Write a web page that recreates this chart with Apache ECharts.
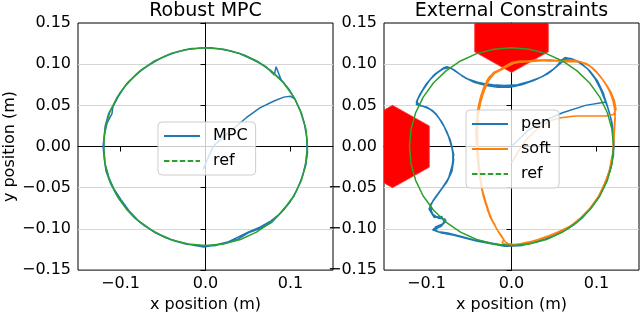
<!DOCTYPE html>
<html><head><meta charset="utf-8">
<script src="https://cdn.jsdelivr.net/npm/echarts@6/dist/echarts.min.js"></script>
<style>html,body{margin:0;padding:0;background:#fff}#c{width:640px;height:318px}</style>
</head><body><div id="c"></div><script>
// ---------- data ----------
const xTicks = [-0.1, 0.0, 0.1];
const refCircle = [[0.1200,0.0000],[0.1182,0.0208],[0.1128,0.0410],[0.1039,0.0600],[0.0919,0.0771],[0.0771,0.0919],[0.0600,0.1039],[0.0410,0.1128],[0.0208,0.1182],[0.0000,0.1200],[-0.0208,0.1182],[-0.0410,0.1128],[-0.0600,0.1039],[-0.0771,0.0919],[-0.0919,0.0771],[-0.1039,0.0600],[-0.1128,0.0410],[-0.1182,0.0208],[-0.1200,0.0000],[-0.1182,-0.0208],[-0.1128,-0.0410],[-0.1039,-0.0600],[-0.0919,-0.0771],[-0.0771,-0.0919],[-0.0600,-0.1039],[-0.0410,-0.1128],[-0.0208,-0.1182],[0.0000,-0.1200],[0.0208,-0.1182],[0.0410,-0.1128],[0.0600,-0.1039],[0.0771,-0.0919],[0.0919,-0.0771],[0.1039,-0.0600],[0.1128,-0.0410],[0.1182,-0.0208],[0.1200,0.0000]];
const mpcTraj = [[-0.003,-0.028],[0.002,-0.016],[0.009,0.000],[0.018,0.009],[0.032,0.021],[0.048,0.035],[0.064,0.047],[0.080,0.055],[0.092,0.060],[0.100,0.061],[0.105,0.058],
[0.097,0.071],[0.089,0.081],[0.083,0.097],[0.081,0.087],[0.071,0.097],[0.060,0.104],[0.046,0.111],[0.030,0.116],[0.014,0.119],[0.000,0.1198],[-0.016,0.119],[-0.032,0.1155],[-0.047,0.110],[-0.061,0.1025],[-0.074,0.094],[-0.085,0.084],[-0.095,0.073],[-0.103,0.060],[-0.109,0.048],[-0.110,0.040],[-0.116,0.028],[-0.119,0.014],[-0.1205,0.000],[-0.119,-0.016],[-0.117,-0.030],[-0.112,-0.044],[-0.106,-0.056],[-0.102,-0.063],[-0.092,-0.077],[-0.083,-0.087],[-0.072,-0.096],[-0.060,-0.104],[-0.046,-0.111],[-0.031,-0.116],[-0.016,-0.1195],[-0.002,-0.122],[0.012,-0.1195],[0.026,-0.116],[0.040,-0.109],[0.050,-0.104],[0.064,-0.098],[0.076,-0.091],[0.086,-0.083],[0.096,-0.071],[0.104,-0.060],[0.110,-0.047],[0.115,-0.033],[0.118,-0.019],[0.1195,-0.004],[0.119,0.012],[0.116,0.029],[0.111,0.045],[0.105,0.058],
[0.098,0.070],[0.088,0.082],[0.078,0.091],[0.068,0.099],[0.055,0.106],[0.040,0.113],[0.024,0.1175],[0.008,0.1198],[-0.008,0.1195],[-0.024,0.1175],[-0.040,0.113],[-0.054,0.1065],[-0.068,0.098],[-0.080,0.089],[-0.091,0.078],[-0.100,0.066],[-0.107,0.053],[-0.114,0.040],[-0.118,0.025],[-0.1195,0.010],[-0.1195,-0.006],[-0.118,-0.022],[-0.114,-0.037],[-0.108,-0.051],[-0.099,-0.065],[-0.090,-0.078],[-0.079,-0.090],[-0.066,-0.100],[-0.052,-0.108],[-0.038,-0.114],[-0.022,-0.1185],[-0.006,-0.1205],[0.010,-0.1205],[0.024,-0.117],[0.038,-0.1125],[0.052,-0.104],[0.066,-0.099],[0.078,-0.092],[0.089,-0.080],[0.099,-0.068],[0.107,-0.054],[0.113,-0.039],[0.1175,-0.024],[0.120,-0.008],[0.1195,0.008],[0.117,0.025],[0.112,0.042],[0.106,0.056]];
const penTraj = [[0.000,0.000],[0.020,0.020],[0.040,0.032],[0.060,0.041],[0.087,0.050],[0.111,0.054],
[0.108,0.065],[0.101,0.080],[0.092,0.092],[0.082,0.101],[0.072,0.106],[0.063,0.108],[0.058,0.104],[0.052,0.096],[0.042,0.088],[0.030,0.082],[0.017,0.077],[0.003,0.073],[-0.012,0.073],[-0.026,0.075],[-0.040,0.078],[-0.054,0.083],[-0.064,0.090],[-0.071,0.095],[-0.079,0.096],[-0.090,0.088],[-0.099,0.077],[-0.106,0.066],[-0.111,0.056],[-0.110,0.050],[-0.100,0.048],[-0.092,0.043],[-0.085,0.034],[-0.078,0.022],[-0.072,0.008],[-0.069,-0.006],[-0.069,-0.020],[-0.072,-0.034],[-0.079,-0.047],[-0.088,-0.060],[-0.095,-0.070],[-0.094,-0.081],[-0.086,-0.087],[-0.078,-0.088],[-0.081,-0.094],[-0.090,-0.098],[-0.088,-0.103],[-0.075,-0.105],[-0.060,-0.109],[-0.045,-0.113],[-0.030,-0.116],[-0.015,-0.119],[0.000,-0.1205],[0.016,-0.119],[0.032,-0.115],[0.048,-0.109],[0.062,-0.102],[0.075,-0.093],[0.087,-0.082],[0.097,-0.070],[0.105,-0.057],[0.112,-0.042],[0.117,-0.026],[0.120,-0.010],[0.1205,0.006],[0.119,0.022],[0.116,0.038],[0.112,0.052],
[0.107,0.067],[0.100,0.081],[0.091,0.093],[0.081,0.102],[0.070,0.107],[0.062,0.106],[0.056,0.100],[0.048,0.093],[0.038,0.086],[0.026,0.080],[0.012,0.075],[-0.002,0.072],[-0.016,0.072],[-0.030,0.074],[-0.044,0.078],[-0.057,0.085],[-0.066,0.092],[-0.073,0.096],[-0.081,0.094],[-0.092,0.086],[-0.101,0.075],[-0.108,0.063],[-0.112,0.054],[-0.107,0.050],[-0.097,0.046],[-0.089,0.040],[-0.082,0.030],[-0.076,0.018],[-0.071,0.004],[-0.068,-0.010],[-0.070,-0.024],[-0.074,-0.038],[-0.082,-0.051],[-0.090,-0.062],[-0.096,-0.073],[-0.092,-0.084],[-0.084,-0.086],[-0.077,-0.090],[-0.083,-0.097],[-0.092,-0.100],[-0.085,-0.104],[-0.070,-0.107],[-0.055,-0.111],[-0.040,-0.115],[-0.024,-0.118],[-0.008,-0.121],[0.008,-0.120],[0.024,-0.117],[0.040,-0.112],[0.055,-0.106],[0.069,-0.098],[0.081,-0.088],[0.092,-0.076],[0.101,-0.064],[0.108,-0.050],[0.114,-0.034],[0.118,-0.018],[0.1205,-0.002],[0.120,0.014],[0.118,0.030],[0.114,0.045],[0.110,0.056],
[0.105,0.069],[0.098,0.083],[0.089,0.095],[0.078,0.103],[0.068,0.106],[0.060,0.103],[0.053,0.097],[0.045,0.090],[0.034,0.084],[0.021,0.079],[0.007,0.075],[-0.008,0.074],[-0.022,0.075],[-0.036,0.077],[-0.050,0.081],[-0.061,0.088],[-0.069,0.094],[-0.076,0.097],[-0.086,0.091],[-0.096,0.081],[-0.104,0.069],[-0.110,0.058],[-0.112,0.051],[-0.104,0.049],[-0.095,0.045],[-0.087,0.037],[-0.080,0.026],[-0.074,0.012],[-0.070,-0.002],[-0.068,-0.016],[-0.070,-0.030],[-0.076,-0.043],[-0.085,-0.055],[-0.092,-0.065],[-0.097,-0.076],[-0.091,-0.086],[-0.082,-0.085],[-0.079,-0.092],[-0.087,-0.099],[-0.093,-0.101],[-0.082,-0.105],[-0.066,-0.108],[-0.051,-0.112],[-0.035,-0.116],[-0.019,-0.119],[-0.003,-0.121],[0.013,-0.120],[0.028,-0.116],[0.044,-0.111],[0.058,-0.104],[0.072,-0.096],[0.084,-0.086],[0.094,-0.074],[0.103,-0.061],[0.110,-0.046],[0.115,-0.030],[0.119,-0.014],[0.1205,0.002],[0.119,0.018],[0.117,0.034],[0.113,0.048],[0.108,0.062]];
const softTraj = [[0.000,-0.020],[0.008,-0.006],[0.017,0.008],[0.030,0.021],[0.044,0.031],[0.058,0.035],[0.075,0.037],[0.095,0.037],[0.111,0.037],[0.120,0.039],[0.123,0.045],
[0.121,0.056],[0.117,0.066],[0.111,0.076],[0.104,0.086],[0.096,0.095],[0.088,0.101],[0.079,0.103],[0.066,0.103],[0.052,0.104],[0.038,0.105],[0.024,0.104],[0.010,0.104],[0.000,0.102],[-0.007,0.098],[-0.013,0.094],[-0.021,0.090],[-0.028,0.082],[-0.033,0.071],[-0.037,0.058],[-0.040,0.044],[-0.041,0.028],[-0.041,0.012],[-0.040,-0.004],[-0.039,-0.020],[-0.037,-0.036],[-0.035,-0.050],[-0.031,-0.065],[-0.028,-0.078],[-0.023,-0.090],[-0.019,-0.097],[-0.015,-0.104],[-0.011,-0.110],[-0.008,-0.115],[-0.005,-0.118],[0.004,-0.119],[0.018,-0.117],[0.032,-0.113],[0.046,-0.108],[0.060,-0.102],[0.073,-0.094],[0.085,-0.084],[0.095,-0.072],[0.104,-0.058],[0.111,-0.042],[0.116,-0.026],[0.119,-0.008],[0.120,0.010],[0.121,0.026],[0.122,0.040],
[0.120,0.054],[0.115,0.068],[0.109,0.079],[0.101,0.089],[0.093,0.097],[0.084,0.102],[0.074,0.104],[0.061,0.104],[0.047,0.105],[0.033,0.104],[0.019,0.103],[0.007,0.102],[-0.002,0.100],[-0.010,0.094],[-0.018,0.091],[-0.026,0.085],[-0.031,0.075],[-0.036,0.062],[-0.039,0.048],[-0.041,0.032],[-0.042,0.016],[-0.041,0.000],[-0.040,-0.016],[-0.038,-0.032],[-0.036,-0.047],[-0.033,-0.061],[-0.029,-0.074],[-0.025,-0.086],[-0.020,-0.094],[-0.017,-0.101],[-0.012,-0.108],[-0.009,-0.113],[-0.011,-0.117],[-0.004,-0.120],[0.010,-0.118],[0.024,-0.115],[0.038,-0.111],[0.053,-0.105],[0.067,-0.098],[0.079,-0.089],[0.090,-0.078],[0.100,-0.065],[0.108,-0.050],[0.114,-0.034],[0.118,-0.017],[0.120,0.001],[0.121,0.018],[0.122,0.034],[0.121,0.048],
[0.118,0.061],[0.113,0.072],[0.106,0.083],[0.099,0.092],[0.090,0.099],[0.081,0.103],[0.070,0.105],[0.056,0.104],[0.042,0.104],[0.028,0.105],[0.014,0.103],[0.003,0.101],[-0.005,0.097],[-0.012,0.093],[-0.020,0.089],[-0.027,0.080],[-0.032,0.068],[-0.036,0.055],[-0.039,0.040],[-0.040,0.024],[-0.040,0.008],[-0.039,-0.008],[-0.038,-0.024],[-0.036,-0.040],[-0.034,-0.054],[-0.030,-0.068],[-0.026,-0.081],[-0.022,-0.091],[-0.018,-0.099],[-0.014,-0.106],[-0.010,-0.112],[-0.007,-0.116],[0.000,-0.120],[0.014,-0.118],[0.028,-0.114],[0.042,-0.109],[0.056,-0.103],[0.070,-0.096],[0.082,-0.086],[0.093,-0.074],[0.102,-0.061],[0.109,-0.046],[0.115,-0.030],[0.118,-0.013]];
const hexCenters = [[-0.14,0.0],[0.0,0.14]];
const hexLeft = [[-0.14,0.05],[-0.0967,0.025],[-0.0967,-0.025],[-0.14,-0.05],[-0.1833,-0.025],[-0.1833,0.025]];
const hexTop = [[0.0,0.09],[0.0433,0.115],[0.0433,0.165],[0.0,0.19],[-0.0433,0.165],[-0.0433,0.115]];
const hexVerts = [hexLeft, hexTop];

// ---------- chart ----------
const FONT = 'DejaVu Sans';
const BLUE = '#1f77b4', ORANGE = '#ff7f0e', GREEN = '#2ca02c';
const clean = v => (Math.abs(v) < 1e-9 ? 0 : v);
const fmtX = v => clean(v).toFixed(1).replace('-', '\u2212');
const fmtY = v => clean(v).toFixed(2).replace('-', '\u2212');
const T = 'rgba(0,0,0,0)', G = '#d6d6d6';
const txt = {fontSize:16, fontFamily:FONT, color:'#000'};

function xAxisCfg(i) {
  return {type:'value', gridIndex:i, min:-0.15, max:0.15, interval:0.05,
    axisLine:{show:true, lineStyle:{color:'#000', width:1}},
    axisTick:{show:true, customValues:xTicks, length:5, lineStyle:{color:'#000', width:1}},
    axisLabel:{customValues:xTicks, formatter:fmtX, margin:6, ...txt},
    splitLine:{show:true, lineStyle:{color:[T,G,T,G,T,G,T], width:1}},
    name:'x position (m)', nameLocation:'middle', nameGap:23, nameTextStyle:txt};
}
function yAxisCfg(i, named) {
  const a = {type:'value', gridIndex:i, min:-0.15, max:0.15, interval:0.05,
    axisLine:{show:true, lineStyle:{color:'#000', width:1}},
    axisTick:{show:true, length:5, lineStyle:{color:'#000', width:1}},
    axisLabel:{formatter:fmtY, margin:7, ...txt},
    splitLine:{show:true, lineStyle:{color:[T,G,G,G,G,G,T], width:1}}};
  if (named) Object.assign(a, {name:'y position (m)', nameLocation:'middle', nameGap:56, nameTextStyle:txt});
  return a;
}
const legendBase = {orient:'vertical', itemWidth:36, itemHeight:14, itemGap:9,
  padding:[6,8,6,5], backgroundColor:'rgba(255,255,255,0.8)', borderColor:'#cccccc',
  borderWidth:1, borderRadius:4, selectedMode:false,
  itemStyle:{opacity:0, borderWidth:0},
  textStyle:{...txt, padding:[0,0,0,8]}};
const lineS = (name, data, color, xi) => ({type:'line', name, data, xAxisIndex:xi, yAxisIndex:xi,
  symbol:'none', smooth:false, lineStyle:{color, width:1.5}, itemStyle:{color}, animation:false, silent:true});

const option = {
  animation:false,
  grid:[
    {left:78, top:23, width:255, height:254, show:true, borderColor:'#000', borderWidth:1, backgroundColor:'transparent'},
    {left:384, top:23, width:255, height:254, show:true, borderColor:'#000', borderWidth:1, backgroundColor:'transparent'}
  ],
  xAxis:[xAxisCfg(0), xAxisCfg(1)],
  yAxis:[yAxisCfg(0, true), yAxisCfg(1, false)],
  legend:[
    Object.assign({}, legendBase, {left:158, top:122, data:[{name:'MPC'}, {name:'ref', lineStyle:{type:[5.5,2.4]}}]}),
    Object.assign({}, legendBase, {left:466, top:110, data:[{name:'pen'}, {name:'soft'}, {name:'ref', lineStyle:{type:[5.5,2.4]}}]})
  ],
  graphic:[
    {type:'text', x:205.5, y:11, style:{text:'Robust MPC', fontSize:19, fontFamily:FONT, fill:'#000', align:'center', verticalAlign:'middle', textAlign:'center', textVerticalAlign:'middle'}},
    {type:'text', x:511.5, y:11, style:{text:'External Constraints', fontSize:19, fontFamily:FONT, fill:'#000', align:'center', verticalAlign:'middle', textAlign:'center', textVerticalAlign:'middle'}}
  ],
  series:[
    lineS('MPC', mpcTraj, BLUE, 0),
    lineS('ref', refCircle, GREEN, 0),
    lineS('pen', penTraj, BLUE, 1),
    lineS('soft', softTraj, ORANGE, 1),
    lineS('ref', refCircle, GREEN, 1),
    {type:'custom', name:'obstacles', xAxisIndex:1, yAxisIndex:1, clip:true, z:3, silent:true, animation:false,
      data:hexCenters,
      renderItem:(params, api) => ({type:'polygon',
        shape:{points:hexVerts[params.dataIndex].map(p => api.coord(p))},
        style:{fill:'#ff0000', stroke:'#ff3333', lineWidth:0.8}})}
  ]
};
const chart = echarts.init(document.getElementById('c'), null, {renderer:'canvas'});
chart.setOption(option);
</script></body></html>
